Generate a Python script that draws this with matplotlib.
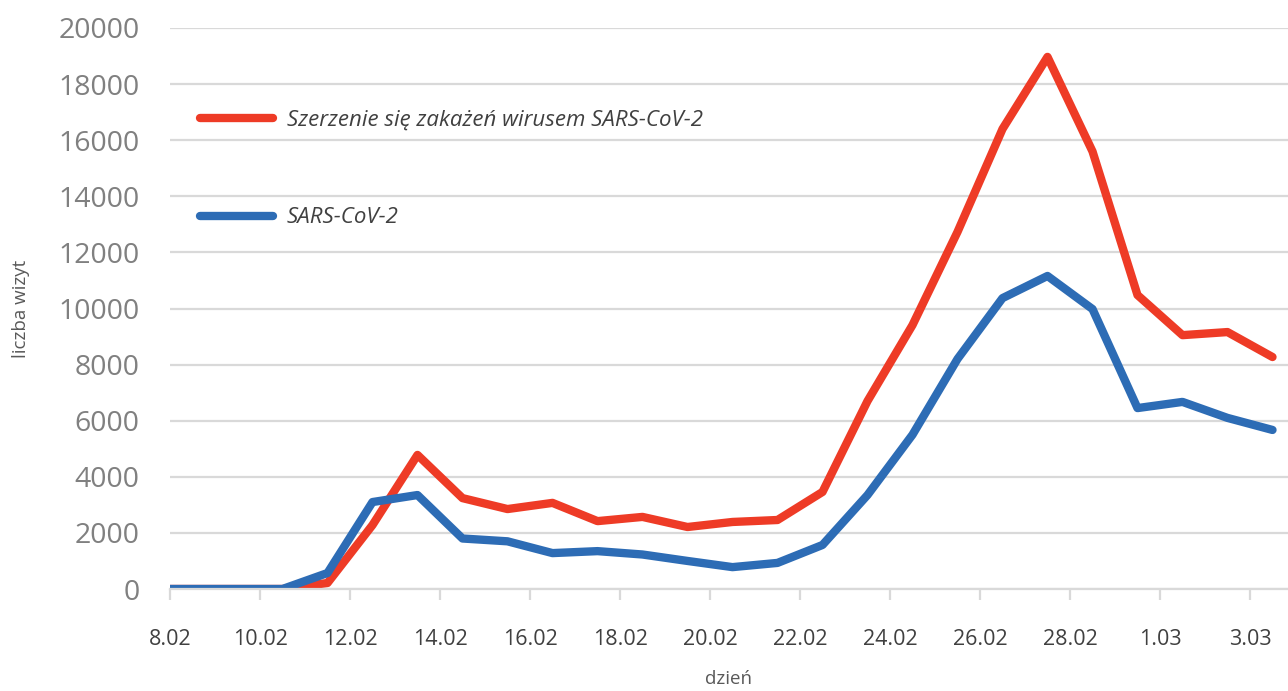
import matplotlib
matplotlib.use("Agg")
import matplotlib.pyplot as plt
import numpy as np

plt.rcParams['font.family'] = ['Open Sans', 'DejaVu Sans']

# days from 8.02 to 3.03 (2020), one value per day
tick_labels = ['8.02', '10.02', '12.02', '14.02', '16.02', '18.02', '20.02',
               '22.02', '24.02', '26.02', '28.02', '1.03', '3.03']
spread = [0, 0, 0, 214, 2280, 4780, 3240, 2850, 3070, 2420, 2570, 2210, 2390,
          2460, 3460, 6700, 9410, 12730, 16400, 18970, 15600, 10480, 9050,
          9160, 8270]
sars = [0, 0, 0, 570, 3100, 3350, 1800, 1700, 1280, 1350, 1230, 1000, 780,
        930, 1570, 3350, 5500, 8200, 10370, 11160, 9980, 6450, 6670, 6100,
        5670]

x = np.arange(len(spread)) + 0.5
x[0] = 0

fig = plt.figure(figsize=(12.88, 6.91), dpi=100)
ax = fig.add_axes([170 / 1288, 1 - 589 / 691, 1 - 170 / 1288, (589 - 28) / 691])

grid_c = '#d9d9d9'
ax.set_ylim(0, 20000)
ax.set_xlim(0, (1288 - 170) / 45)
ax.set_yticks(np.arange(0, 20001, 2000))
ax.yaxis.grid(True, color=grid_c, lw=1.6)
ax.set_axisbelow(True)

ax.plot(x, spread, color='#ee3b26', lw=6, solid_capstyle='round',
        solid_joinstyle='round', label='Szerzenie się zakażeń wirusem SARS-CoV-2')
ax.plot(x, sars, color='#2d6cb5', lw=6, solid_capstyle='round',
        solid_joinstyle='round', label='SARS-CoV-2')

ax.set_xticks(np.arange(0, 25, 2))
ax.set_xticklabels(tick_labels)

for s in ['top', 'right', 'left']:
    ax.spines[s].set_visible(False)
ax.spines['bottom'].set_color(grid_c)
ax.spines['bottom'].set_linewidth(1.6)

ax.tick_params(axis='y', length=0, pad=22, labelsize=20.5, labelcolor='#808080')
ax.tick_params(axis='x', length=8, width=1.6, color=grid_c, pad=21,
               labelsize=15.5, labelcolor='#404040')

ax.set_ylabel('liczba wizyt', fontsize=13.5, color='#595959', labelpad=20)
ax.set_xlabel('dzień', fontsize=13.5, color='#595959', labelpad=14)

leg = ax.legend(loc='upper left', bbox_to_anchor=(0.009, 0.890), frameon=False,
                handlelength=3.3, handletextpad=0.6, labelspacing=3.45,
                prop={'style': 'italic', 'size': 16})
for t in leg.get_texts():
    t.set_color('#404040')
for h in leg.get_lines():
    h.set_linewidth(6)

fig.savefig('out.png', dpi=100)
